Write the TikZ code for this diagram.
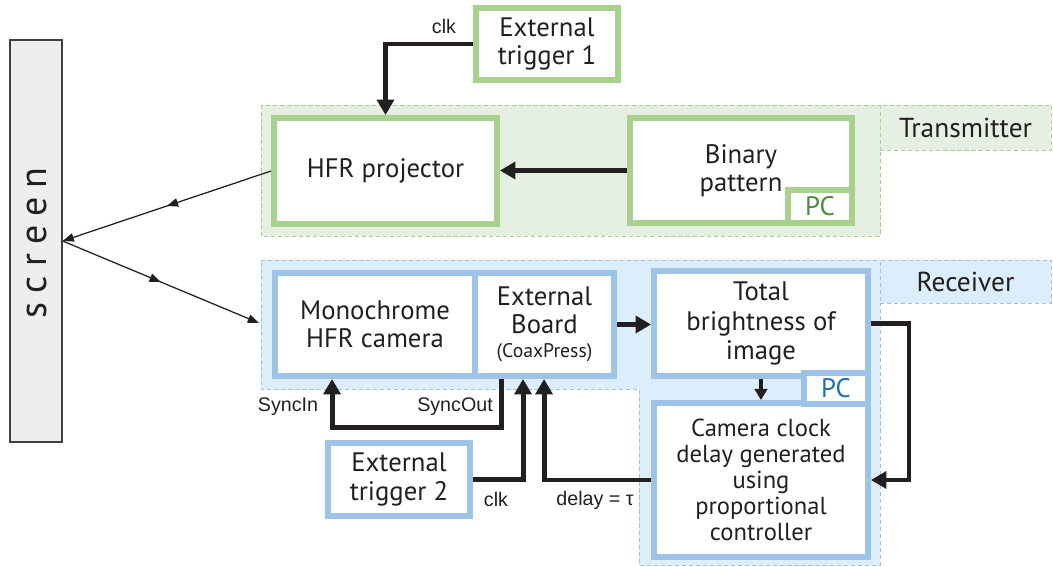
\documentclass[tikz,border=0pt]{standalone}
\usepackage{fontspec}
\setmainfont{PT Sans}
\newfontfamily\labelfont{Liberation Sans}
\newfontfamily\screenfont[LetterSpace=24]{PT Sans}
\usetikzlibrary{arrows.meta,calc,decorations.markings}

\definecolor{txt}{HTML}{231F20}
\definecolor{grline}{HTML}{A9D18E}
\definecolor{grfill}{HTML}{E6F0E2}
\definecolor{grtext}{HTML}{4E8A3A}
\definecolor{blline}{HTML}{9DC3E6}
\definecolor{blfill}{HTML}{DCEEFB}
\definecolor{bltext}{HTML}{1F6FB5}
\definecolor{scrfill}{HTML}{EEEEEE}

\newlength\pxu
\setlength\pxu{0.025cm}

\tikzset{
  box/.style={line width=4.2pt, fill=white, align=center, text=txt, inner sep=0pt,
    font=\fontsize{19}{20}\selectfont},
  grbox/.style={box, draw=grline},
  blbox/.style={box, draw=blline},
  region/.style={line width=0.7pt, dash pattern=on 3pt off 2pt},
  tab/.style={region, text=txt, font=\fontsize{19.5}{20}\selectfont, inner sep=0pt},
  sig/.style={draw=txt, line width=3.5pt, -{Triangle[width=12pt,length=11pt]}},
  smallsig/.style={draw=txt, line width=2.4pt, -{Triangle[width=9pt,length=8pt]}},
  ray/.style={draw=txt, line width=0.9pt, -{Triangle[width=6pt,length=8pt]},
    postaction={decorate}, decoration={markings,
      mark=at position 0.5 with {\arrow{Triangle[width=6pt,length=8pt]}}}},
  lbl/.style={text=txt, inner sep=0pt, font=\labelfont\fontsize{14}{16}\selectfont}
}

\begin{document}
\begin{tikzpicture}[x=0.025cm, y=-0.025cm]
  \useasboundingbox (0,0) rectangle (1053,566);

  % regions
  \draw[region, draw=grline, fill=grfill] (261,105) rectangle (880,236);
  \node[tab, draw=grline, fill=grfill, minimum width=171\pxu, minimum height=45\pxu] (txtab) at (965.5,127.5) {Transmitter};
  \draw[region, draw=blline, fill=blfill] (261,260) -- (880,260) -- (880,565) -- (639,565)
    -- (639,389) -- (261,389) -- cycle;
  \node[tab, draw=blline, fill=blfill, minimum width=171\pxu, minimum height=43\pxu] (rxtab) at (965.5,281.5) {Receiver};

  % screen
  \node[draw=black!75, line width=0.9pt, fill=scrfill, minimum width=52\pxu, minimum height=402\pxu] (screen) at (36,241) {};
  \node[rotate=90, text=txt, font=\screenfont\fontsize{27}{30}\selectfont] (screentxt) at (37,243) {screen};

  % transmitter
  \node[grbox, minimum width=142\pxu, minimum height=72\pxu] (trig1) at (547,44) {External\\trigger 1};
  \node[grbox, minimum width=223\pxu, minimum height=106\pxu] (proj) at (385.5,171) {HFR projector};
  \node[grbox, minimum width=222\pxu, minimum height=105\pxu] (binary) at (741,170.5) {Binary\\pattern};
  \node[grbox, text=grtext, minimum width=64\pxu, minimum height=33\pxu] (pcgr) at (820,206.5) {PC};

  % receiver
  \node[blbox, minimum width=200\pxu, minimum height=103\pxu] (cam) at (375,324.5) {Monochrome\\HFR camera};
  \node[blbox, minimum width=139\pxu, minimum height=103\pxu] (board) at (544.5,324.5)
    {External\\Board\\[-3pt]{\fontsize{14}{15}\selectfont(CoaxPress)}};
  \node[blbox, font=\fontsize{19}{21}\selectfont, minimum width=214\pxu, minimum height=105\pxu] (bright) at (761,323.5) {Total\\brightness of\\image};
  \node[blbox, font=\fontsize{17.5}{18.5}\selectfont, minimum width=214\pxu, minimum height=154\pxu] (clock) at (761,480)
    {Camera clock\\delay generated\\using\\proportional\\controller};
  \node[blbox, text=bltext, minimum width=64\pxu, minimum height=31\pxu] (pcbl) at (836,388.5) {PC};
  \node[blbox, minimum width=142\pxu, minimum height=73\pxu] (trig2) at (399,479.5) {External\\trigger 2};

  % light paths
  \coordinate (rxin) at (259,323);
  \draw[ray] (proj.west) -- (screen.east);
  \draw[ray] (screen.east) -- (rxin);

  % signals
  \draw[sig] (trig1.west) -| (proj.north);
  \draw[sig] (binary.west) -- (binary.west -| proj.east);
  \draw[sig] (board.east) -- (board.east -| bright.west);
  \draw[smallsig] (bright.south) -- (clock.north);
  \draw[sig] (bright.east) -- ++(38,0) |- (clock.east);
  \draw[sig] ($(board.south west)+(29,0)$) -- ++(0,49) -| ($(cam.south west)+(60,0)$);
  \draw[sig] (trig2.east) -| ($(board.south west)+(51,0)$);
  \draw[sig] (clock.west) -| ($(board.south west)+(72,0)$);

  \node[lbl] (clk1lbl) at (444,26) {clk};
  \node[lbl] (syncinlbl) at (288,407) {SyncIn};
  \node[lbl] (syncoutlbl) at (455,407) {SyncOut};
  \node[lbl] (clk2lbl) at (496,499) {clk};
  \node[lbl] (delaylbl) at (595,500) {delay = τ};
\end{tikzpicture}
\end{document}
